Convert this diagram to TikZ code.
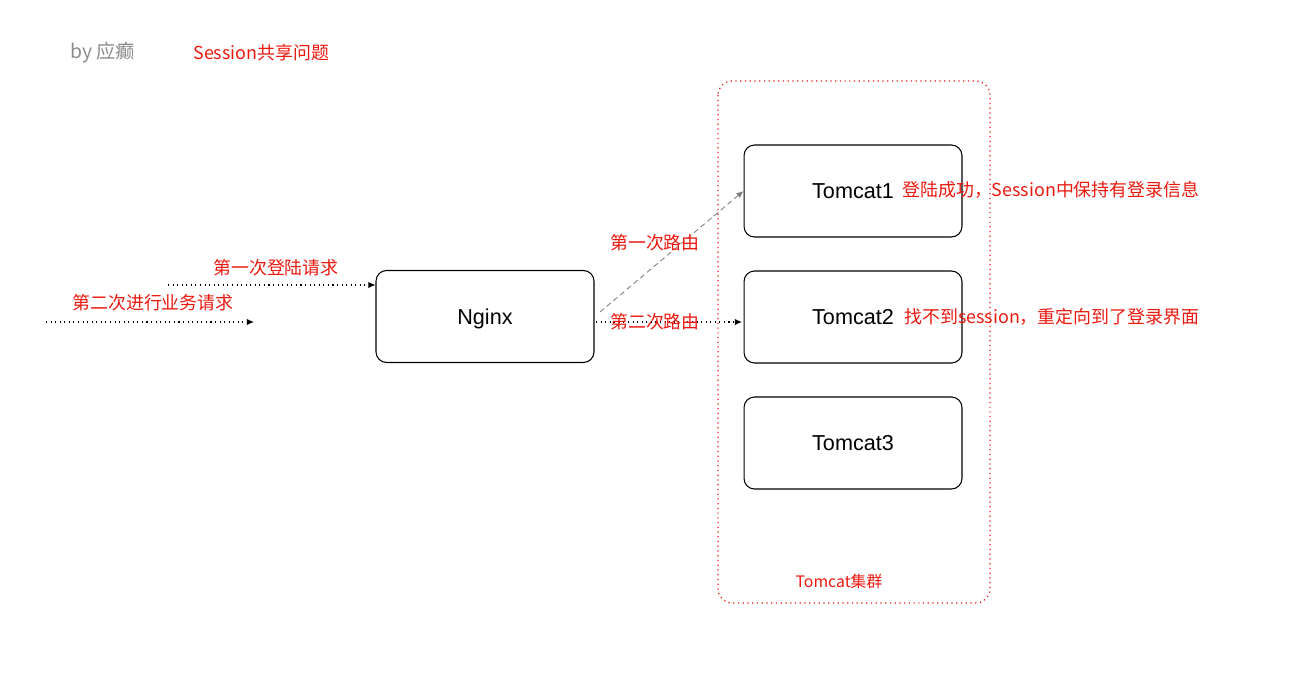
\documentclass[tikz,border=0pt]{standalone}
\usepackage{fontspec}
\setmainfont{Liberation Sans}
\newfontfamily\cjk{Noto Sans CJK SC}
\usepackage{xcolor}
\usetikzlibrary{positioning, arrows.meta, calc}

\definecolor{labelred}{RGB}{235,25,15}
\definecolor{authorgray}{RGB}{140,140,140}

\tikzset{
  server/.style={draw, rounded corners=6pt, line width=0.6pt, minimum width=4.36cm, minimum height=1.84cm, font=\fontsize{12.3}{14}\selectfont, text depth=0pt},
  note/.style={text=labelred, font=\cjk\fontsize{10.2}{12}\selectfont, inner sep=0pt},
  req/.style={dotted, line width=0.6pt, -{Latex[length=4pt,width=3.5pt]}},
}

\begin{document}
\begin{tikzpicture}[x=0.02cm, y=-0.02cm]
  \useasboundingbox (0,0) rectangle (1292,674);

  % title line
  \node[note, text=authorgray, font=\cjk\fontsize{11}{13}\selectfont, anchor=west] (author) at (70,53) {by 应癫};
  \node[note, anchor=west] (title) at (193,53) {Session共享问题};

  % tomcat cluster
  \draw[labelred, dotted, line width=0.7pt, rounded corners=8pt] (718,81) rectangle (990,603);
  \node[note, font=\cjk\fontsize{9}{11}\selectfont] (cluster) at (839,581) {Tomcat集群};

  \node[server] (nginx) at (485,316.5) {Nginx};
  \node[server] (tomcat1) at (853,191) {Tomcat1};
  \node[server] (tomcat2) at (853,317) {Tomcat2};
  \node[server] (tomcat3) at (853,443) {Tomcat3};

  % requests
  \coordinate (req1) at (168,285);
  \coordinate (req2a) at (46,322);
  \coordinate (req2b) at (254,322);
  \draw[req] (req1) -- (nginx.west |- req1);
  \draw[req] (req2a) -- (req2b);
  \node[note] (lreq1) at (276,268) {第一次登陆请求};
  \node[note] (lreq2) at (153,303) {第二次进行业务请求};

  % routing
  \coordinate (r1) at (600,312);
  \coordinate (r2a) at (596,322);
  \coordinate (r2b) at (742,322);
  \draw[gray, densely dashed, line width=0.5pt, -{Latex[length=4pt,width=3.5pt]}] (r1) -- (tomcat1.west);
  \draw[req] (r2a) -- (r2b);
  \node[note] (lr1) at (655,243) {第一次路由};
  \node[note] (lr2) at (655,322) {第二次路由};

  % results
  \node[note, anchor=west] (ok) at (902,190) {登陆成功，Session中保持有登录信息};
  \node[note, anchor=west] (fail) at (904,317) {找不到session，重定向到了登录界面};
\end{tikzpicture}
\end{document}
